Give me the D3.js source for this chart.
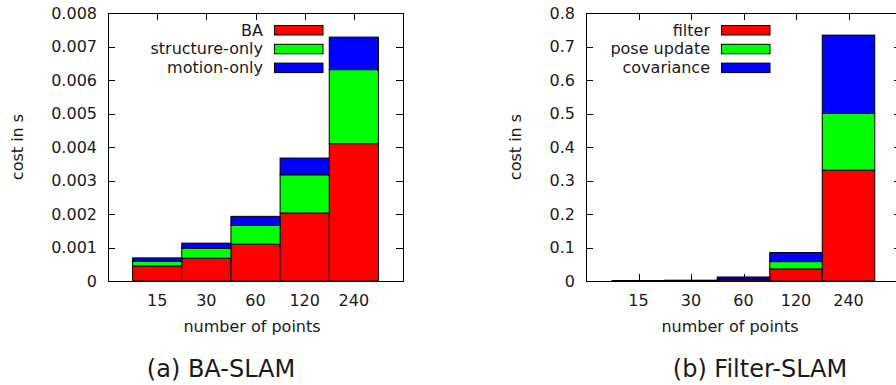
<!DOCTYPE html>
<html>
<head>
<meta charset="utf-8">
<script src="https://cdn.jsdelivr.net/npm/d3@7/dist/d3.min.js"></script>
<style>
  html, body { margin: 0; padding: 0; background: #fff; }
  svg { display: block; font-family: "DejaVu Sans", sans-serif; }
</style>
</head>
<body>
<svg id="chart" width="896" height="385"></svg>
<script>
// ---- data ----
const categories = ["15", "30", "60", "120", "240"];

const baSeriesNames = ["BA", "structure-only", "motion-only"];
const baBA        = [0.00045, 0.00068, 0.00110, 0.00203, 0.00410];
const baStructure = [0.00014, 0.00030, 0.00056, 0.00114, 0.00221];
const baMotion    = [0.00010, 0.00015, 0.00027, 0.00050, 0.00097];
const baTicks     = [0, 0.001, 0.002, 0.003, 0.004, 0.005, 0.006, 0.007, 0.008];

const flSeriesNames = ["filter", "pose update", "covariance"];
const flFilter     = [0.0005, 0.0010, 0.0040, 0.036, 0.331];
const flPose       = [0.0002, 0.0004, 0.0015, 0.022, 0.169];
const flCovariance = [0.0005, 0.0010, 0.0065, 0.027, 0.234];
const flTicks      = [0, 0.1, 0.2, 0.3, 0.4, 0.5, 0.6, 0.7, 0.8];

const seriesColors = ["#ff0000", "#00ff00", "#0000ff"];

const xLabel = "number of points";
const yLabel = "cost in s";
const captions = ["(a) BA-SLAM", "(b) Filter-SLAM"];

// ---- drawing ----
const svg = d3.select("#chart");
const textColor = "#1a1a1a";

function panel(cfg) {
  const g = svg.append("g");
  const x = d3.scaleLinear().domain([-1, categories.length]).range([cfg.left, cfg.right]);
  const y = d3.scaleLinear().domain([0, cfg.ymax]).range([cfg.bottom, cfg.top]);
  const tickLen = 7;

  // frame
  g.append("rect")
    .attr("x", cfg.left + 0.5).attr("y", cfg.top + 0.5)
    .attr("width", cfg.right - cfg.left).attr("height", cfg.bottom - cfg.top)
    .attr("fill", "none").attr("stroke", "#000").attr("stroke-width", 1);

  // y ticks (left + mirrored right)
  cfg.ticks.forEach(t => {
    const yy = Math.round(y(t)) + 0.5;
    g.append("line").attr("x1", cfg.left).attr("x2", cfg.left + tickLen)
      .attr("y1", yy).attr("y2", yy).attr("stroke", "#000");
    g.append("line").attr("x1", cfg.right - tickLen).attr("x2", cfg.right)
      .attr("y1", yy).attr("y2", yy).attr("stroke", "#000");
    g.append("text")
      .attr("x", cfg.left - 11).attr("y", y(t))
      .attr("text-anchor", "end").attr("dominant-baseline", "central")
      .attr("font-size", 16).attr("fill", textColor)
      .text(t === 0 ? "0" : cfg.fmt(t));
  });

  // x ticks (bottom + mirrored top) and labels
  categories.forEach((c, i) => {
    const xx = Math.round(x(i)) + 0.5;
    g.append("line").attr("x1", xx).attr("x2", xx)
      .attr("y1", cfg.bottom).attr("y2", cfg.bottom - tickLen).attr("stroke", "#000");
    g.append("line").attr("x1", xx).attr("x2", xx)
      .attr("y1", cfg.top).attr("y2", cfg.top + tickLen).attr("stroke", "#000");
    g.append("text")
      .attr("x", x(i)).attr("y", 306)
      .attr("text-anchor", "middle")
      .attr("font-size", 16).attr("fill", textColor)
      .text(c);
  });

  // stacked bars
  const rows = categories.map((c, i) => {
    const o = { cat: i };
    cfg.series.forEach((s, k) => { o[k] = s[i]; });
    return o;
  });
  const stacked = d3.stack().keys(cfg.series.map((s, k) => k))(rows);
  stacked.forEach((layer, k) => {
    g.append("g").selectAll("rect").data(layer).join("rect")
      .attr("x", d => x(d.data.cat - 0.5))
      .attr("width", d => x(d.data.cat + 0.5) - x(d.data.cat - 0.5))
      .attr("y", d => y(d[1]))
      .attr("height", d => Math.max(0, y(d[0]) - y(d[1])))
      .attr("fill", seriesColors[k])
      .attr("stroke", "#000").attr("stroke-width", 1);
  });

  // legend
  cfg.names.forEach((n, k) => {
    const ly = 30 + k * 18.8;
    g.append("text")
      .attr("x", cfg.legendTextX).attr("y", ly)
      .attr("text-anchor", "end").attr("dominant-baseline", "central")
      .attr("font-size", 16).attr("fill", textColor)
      .text(n);
    g.append("rect")
      .attr("x", cfg.legendTextX + 11.5).attr("y", ly - 4.5)
      .attr("width", 48.5).attr("height", 9.5)
      .attr("fill", seriesColors[k]).attr("stroke", "#000").attr("stroke-width", 1);
  });

  // axis titles
  g.append("text")
    .attr("x", cfg.xLabelX).attr("y", 332)
    .attr("text-anchor", "middle")
    .attr("font-size", 16).attr("fill", textColor)
    .text(xLabel);
  g.append("text")
    .attr("transform", `translate(${cfg.yLabelX},${(cfg.top + cfg.bottom) / 2}) rotate(-90)`)
    .attr("text-anchor", "middle").attr("dominant-baseline", "central")
    .attr("font-size", 16).attr("fill", textColor)
    .text(yLabel);

  // caption
  g.append("text")
    .attr("x", cfg.captionX).attr("y", 377)
    .attr("text-anchor", "middle")
    .attr("font-size", 24).attr("fill", textColor)
    .text(cfg.caption);
}

panel({
  left: 108, right: 403, top: 13, bottom: 281,
  ymax: 0.008, ticks: baTicks, fmt: d3.format(".3f"),
  series: [baBA, baStructure, baMotion], names: baSeriesNames,
  legendTextX: 263, xLabelX: 252, yLabelX: 17,
  captionX: 221, caption: captions[0]
});

panel({
  left: 586, right: 901, top: 13, bottom: 281,
  ymax: 0.8, ticks: flTicks, fmt: d3.format(".1f"),
  series: [flFilter, flPose, flCovariance], names: flSeriesNames,
  legendTextX: 710, xLabelX: 730, yLabelX: 515,
  captionX: 760, caption: captions[1]
});
</script>
</body>
</html>
